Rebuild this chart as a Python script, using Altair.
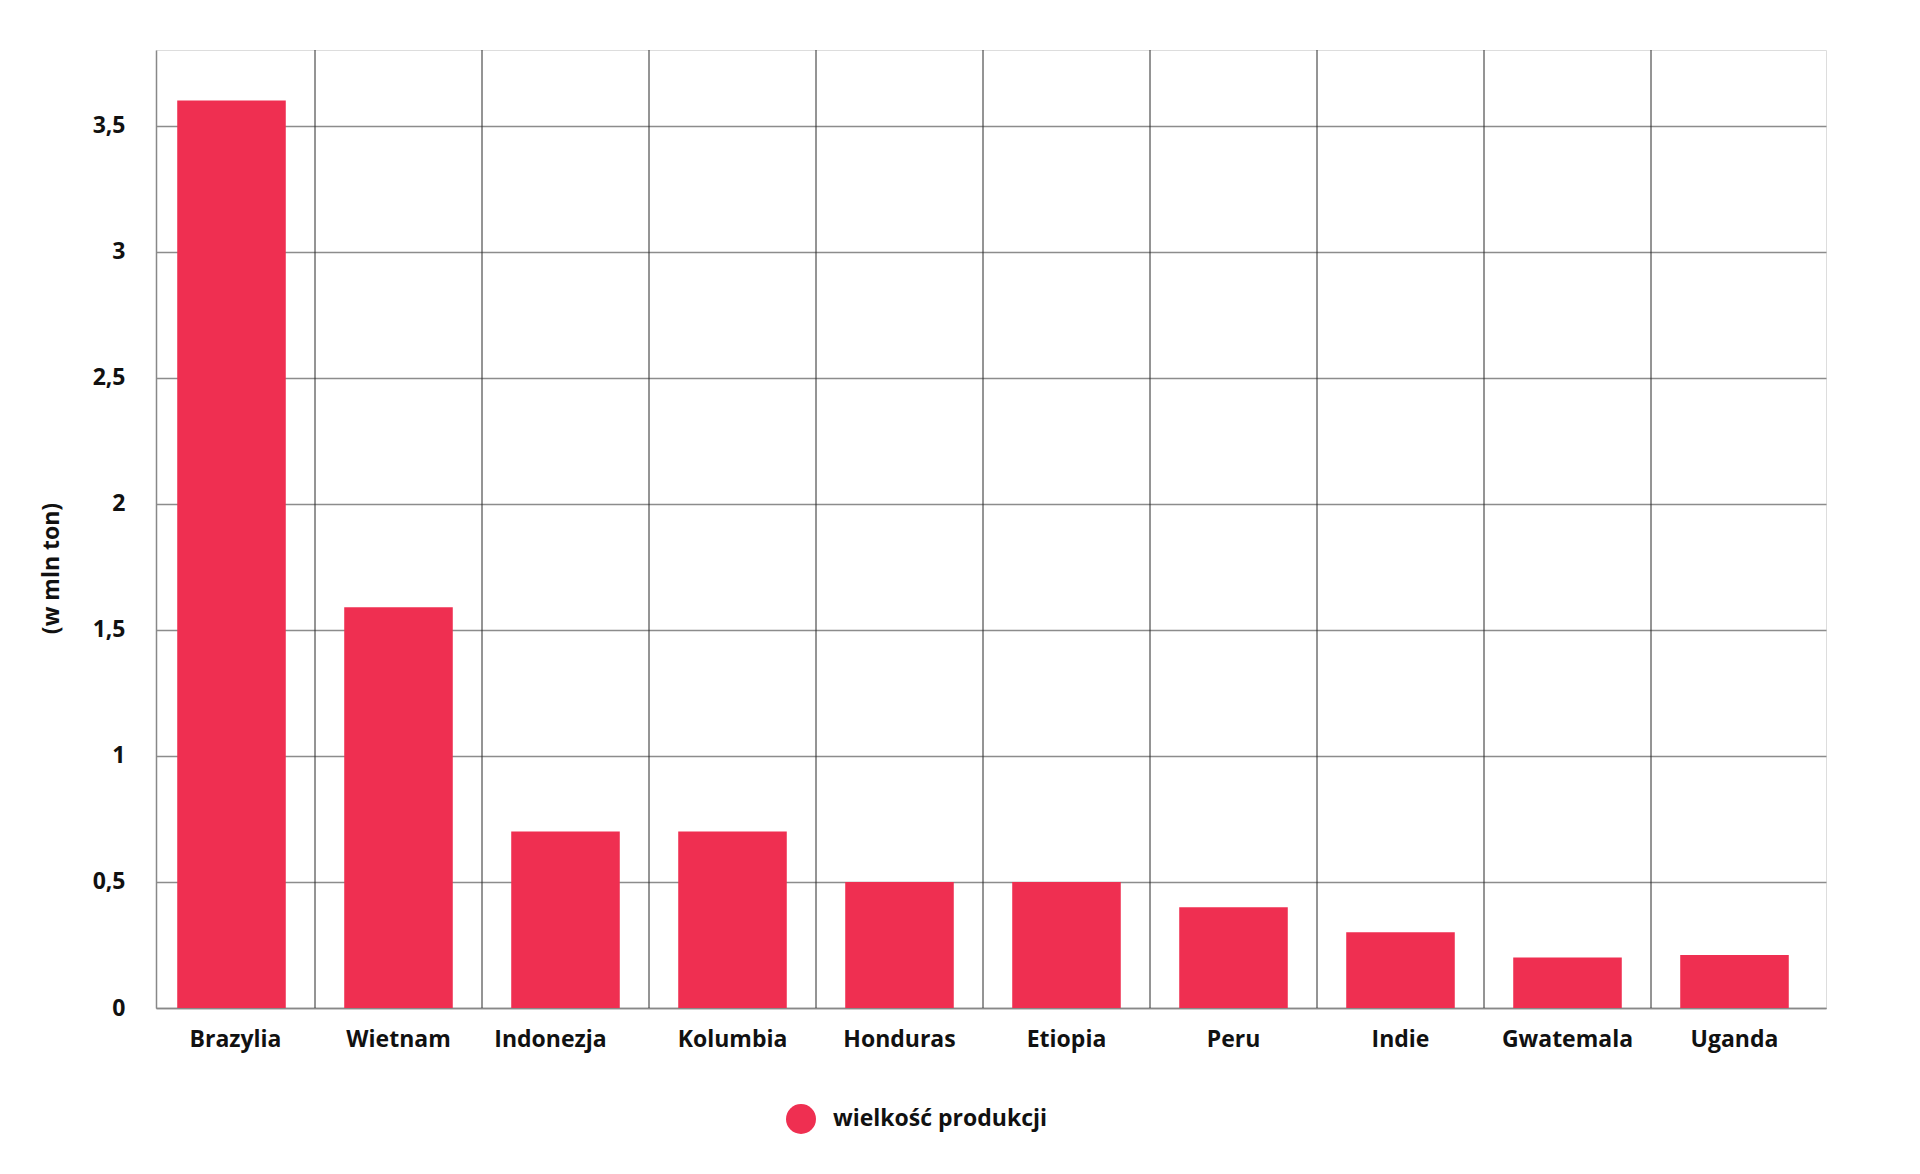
import altair as alt
import pandas as pd

countries = ["Brazylia", "Wietnam", "Indonezja", "Kolumbia", "Honduras",
             "Etiopia", "Peru", "Indie", "Gwatemala", "Uganda"]
production = [3.6, 1.59, 0.7, 0.7, 0.5, 0.5, 0.4, 0.3, 0.2, 0.21]
series_name = "wielkość produkcji"
y_ticks = [0, 0.5, 1, 1.5, 2, 2.5, 3, 3.5]

df = pd.DataFrame({"kraj": countries, "wartosc": production, "seria": [series_name] * len(countries)})
df_sep = pd.DataFrame({"kraj": countries[1:]})

FONT = "Open Sans"
RED = "#EF2F51"
FS = 23
SHIFT = -8

xscale = alt.Scale(domain=countries, paddingInner=0, paddingOuter=0)

label_offset = {
    "condition": [
        {"test": "datum.value === 'Indonezja'", "value": SHIFT - 15},
        {"test": "datum.value === 'Brazylia'", "value": SHIFT + 4},
    ],
    "value": SHIFT,
}

xaxis = alt.Axis(title=None, labelAngle=0, labelFont=FONT, labelFontWeight="bold",
                 labelFontSize=FS, labelColor="#111", labelPadding=20, ticks=False,
                 labelOffset=label_offset, domainColor="#888", domainWidth=1.5, grid=False)

bars = alt.Chart(df).mark_bar(color=RED, width=alt.RelativeBandSize(0.65), xOffset=SHIFT).encode(
    x=alt.X("kraj:N", sort=countries, scale=xscale, axis=xaxis),
    y=alt.Y("wartosc:Q", scale=alt.Scale(domain=[0, 3.8], nice=False),
            axis=alt.Axis(title="(w mln ton)", values=y_ticks,
                          labelExpr="replace(toString(datum.value), '.', ',')",
                          labelFont=FONT, labelFontWeight="bold", labelFontSize=FS,
                          labelColor="#111", labelPadding=31, ticks=False,
                          domainColor="#888", domainWidth=1.5,
                          grid=True, gridColor="#8c8c8c", gridWidth=1.5,
                          titleFont=FONT, titleFontWeight="bold", titleFontSize=FS,
                          titleColor="#111", titleAngle=-90, titleBaseline="middle",
                          titleAlign="center", titleX=-105, titleY=518)),
    color=alt.Color("seria:N", scale=alt.Scale(domain=[series_name], range=[RED]),
                    legend=alt.Legend(title=None, orient="none", legendX=630, legendY=1054,
                                      symbolType="circle", symbolSize=900, symbolStrokeWidth=0,
                                      symbolOpacity=1, padding=0, labelLimit=500,
                                      labelFont=FONT, labelFontWeight="bold", labelFontSize=FS,
                                      labelColor="#111", labelOffset=17)),
)

separators = alt.Chart(df_sep).mark_rule(color="#2a2a2a", strokeWidth=1, xOffset=SHIFT).encode(
    x=alt.X("kraj:N", scale=xscale, bandPosition=0, axis=xaxis),
)

chart = alt.layer(separators, bars).properties(
    width=1670, height=958,
    autosize=alt.AutoSizeParams(type="none"),
    padding={"left": 148, "top": 42, "right": 80, "bottom": 150},
).configure_view(
    stroke="#555", strokeWidth=1.5
).configure(background="white")

chart.save("out.html", embed_options={"renderer": "svg", "actions": False})
